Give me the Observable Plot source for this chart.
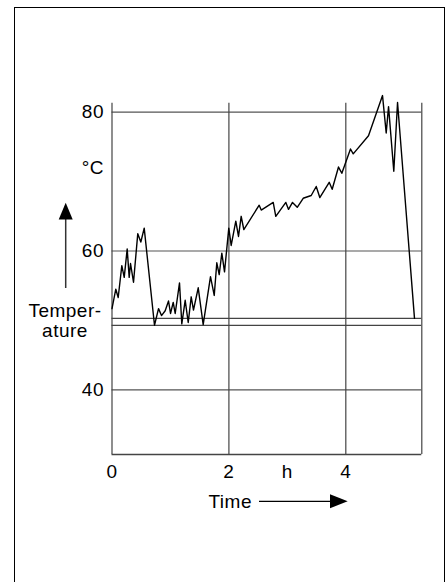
<!DOCTYPE html>
<html>
<head>
<meta charset="utf-8">
<script src="https://cdn.jsdelivr.net/npm/d3@7"></script>
<script src="https://cdn.jsdelivr.net/npm/@observablehq/plot@0.6"></script>
<style>
  html, body { margin: 0; padding: 0; background: #fff; overflow: hidden; width: 447px; height: 582px; }
  #frame { position: absolute; left: 14px; top: 6.5px; width: 431px; height: 800px; border: 1.5px solid #000; box-sizing: border-box; }
  #chart { position: absolute; left: 0; top: 0; }
</style>
</head>
<body>
<div id="frame"></div>
<div id="chart"></div>
<script>
// Time in hours
const timeH = [0, 0.065, 0.106, 0.168, 0.209, 0.26, 0.294, 0.317, 0.368, 0.441, 0.493, 0.551,
  0.727, 0.796, 0.847, 0.91, 0.967, 1.001, 1.047, 1.081, 1.155, 1.194, 1.252, 1.304, 1.355,
  1.394, 1.475, 1.56, 1.685, 1.749, 1.793, 1.834, 1.879, 1.925, 1.998, 2.039, 2.118, 2.164,
  2.21, 2.255, 2.518, 2.553, 2.758, 2.802, 2.974, 3.02, 3.088, 3.169, 3.271, 3.408, 3.494,
  3.555, 3.716, 3.767, 3.875, 3.932, 4.08, 4.127, 4.388, 4.628, 4.691, 4.731, 4.821, 4.885, 5.175];
// Temperature in °C
const tempC = [51.7, 54.5, 53.3, 57.9, 56.2, 60.3, 56.2, 58.2, 55.5, 62.5, 61.3, 63.3,
  49.3, 51.7, 50.7, 51.4, 52.8, 51.0, 52.6, 51.0, 55.4, 49.5, 52.9, 49.7, 53.4,
  51.5, 54.7, 49.4, 56.3, 53.6, 58.3, 56.6, 59.7, 57.0, 63.3, 60.8, 64.3, 62.1,
  65.0, 63.1, 66.6, 65.9, 67.0, 65.0, 67.0, 66.0, 67.0, 66.3, 67.6, 68.0, 69.3,
  67.7, 69.9, 68.9, 72.1, 71.2, 74.7, 74.0, 76.6, 82.4, 77.0, 80.8, 71.5, 81.4, 50.3];

const yTicks = [40, 60, 72, 80];
const yTickLabels = ["40", "60", "°C", "80"];
const xTicks = [0, 2, 3, 4];
const xTickLabels = ["0", "2", "h", "4"];
const gridY = [40, 60, 80];
const gridX = [2, 4];
const refLevels = [50.3, 49.3];
const xDomain = [0, 5.3];
const yDomain = [30.68, 81.3];

const data = timeH.map((t, i) => ({t, T: tempC[i]}));
const FONT = "'Liberation Sans', Arial, Helvetica, sans-serif";

const plot = Plot.plot({
  width: 447,
  height: 582,
  marginLeft: 111.5,
  marginRight: 25.7,
  marginTop: 102.7,
  marginBottom: 128,
  style: {fontFamily: FONT, fontSize: "19px", letterSpacing: "0.5px", background: "transparent", overflow: "visible", color: "#000"},
  x: {domain: xDomain, ticks: xTicks, tickFormat: d => xTickLabels[xTicks.indexOf(d)], tickSize: 0, tickPadding: 10, label: null},
  y: {domain: yDomain, ticks: yTicks, tickFormat: d => yTickLabels[yTicks.indexOf(d)], tickSize: 0, tickPadding: 8, label: null},
  marks: [
    Plot.ruleY(gridY, {stroke: "#555", strokeWidth: 1.2}),
    Plot.ruleY(refLevels, {stroke: "#444", strokeWidth: 1.2}),
    Plot.ruleX(gridX, {stroke: "#444", strokeWidth: 1.2}),
    Plot.ruleX(xDomain, {stroke: "#444", strokeWidth: 1.2}),
    Plot.ruleY([yDomain[0]], {stroke: "#444", strokeWidth: 1.4}),
    Plot.line(data, {x: "t", y: "T", stroke: "#000", strokeWidth: 1.4, clip: false}),
    Plot.axisX({ticks: xTicks, tickFormat: d => xTickLabels[xTicks.indexOf(d)], tickSize: 0, tickPadding: 10, label: null}),
    Plot.axisY({ticks: yTicks, tickFormat: d => yTickLabels[yTicks.indexOf(d)], tickSize: 0, tickPadding: 8, label: null})
  ]
});
document.getElementById("chart").appendChild(plot);

// Axis titles with arrows
const svg = d3.select(plot);
const g = svg.append("g").attr("font-family", FONT).attr("font-size", 19).attr("letter-spacing", "0.5px").attr("fill", "#000");
// y-axis title
g.append("text").attr("x", 65).attr("y", 316.5).attr("text-anchor", "middle").text("Temper-");
g.append("text").attr("x", 65).attr("y", 337).attr("text-anchor", "middle").text("ature");
g.append("line").attr("x1", 65.7).attr("x2", 65.7).attr("y1", 288).attr("y2", 218)
  .attr("stroke", "#333").attr("stroke-width", 1.5);
g.append("path").attr("d", "M58.7,219.5 L72.7,219.5 L65.7,202.7 Z").attr("fill", "#000");
// x-axis title
g.append("text").attr("x", 252).attr("y", 508).attr("text-anchor", "end").text("Time");
g.append("line").attr("x1", 259).attr("x2", 331).attr("y1", 501.3).attr("y2", 501.3)
  .attr("stroke", "#000").attr("stroke-width", 1.2);
g.append("path").attr("d", "M330,494.3 L330,508.3 L347.7,501.3 Z").attr("fill", "#000");
</script>
</body>
</html>
